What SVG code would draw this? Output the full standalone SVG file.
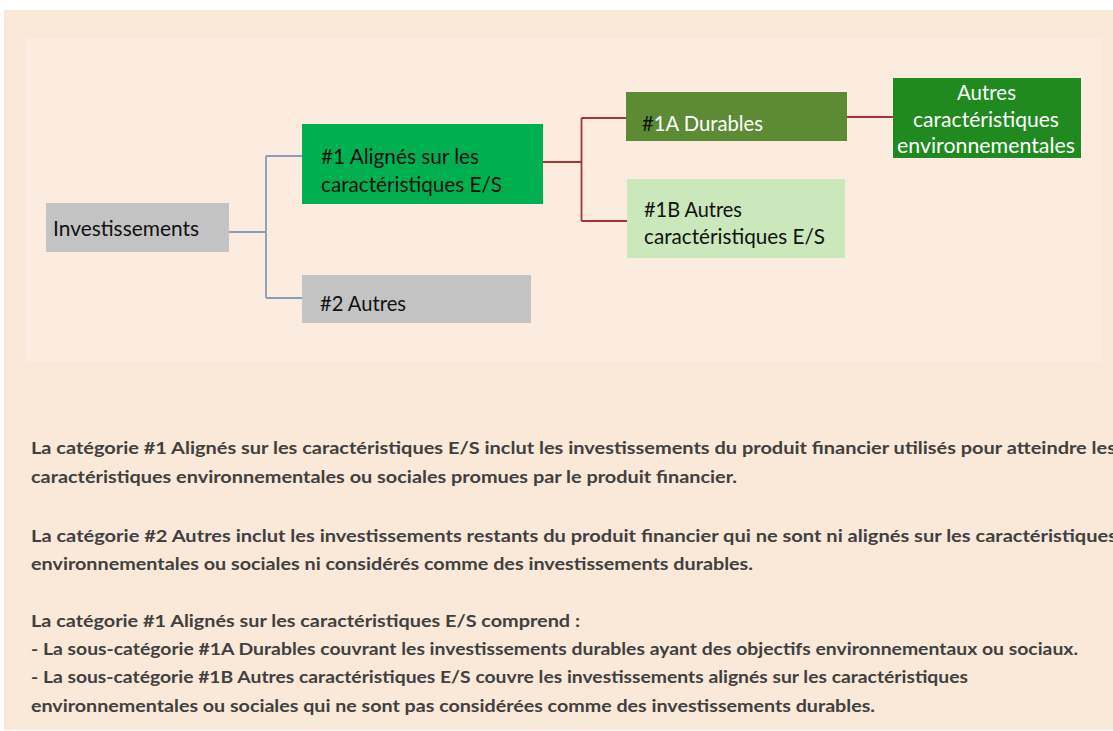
<svg xmlns="http://www.w3.org/2000/svg" width="1113" height="731" viewBox="0 0 1113 731">
<style>
.n{font-family:Lato,"Liberation Sans",sans-serif;font-size:22px;fill:#111111}
.w{fill:#ffffff}
.b{font-family:Lato,"Liberation Sans",sans-serif;font-size:17px;font-weight:bold;fill:#404040}
.blue{fill:none;stroke:#8A9DBA;stroke-width:1.8}
.red{fill:none;stroke:#A3343B;stroke-width:1.8}
</style>
<rect x="0" y="0" width="1113" height="731" fill="#ffffff"/>
<rect x="4" y="10" width="1109" height="720" fill="#FAE8D8"/>
<rect x="25" y="38" width="1077" height="324" fill="#FCECDF"/>
<g id="connectors">
<path class="blue" d="M229,232 H266 M266,156 V298 M266,156 H302 M266,298 H302"/>
<path class="red" d="M543,162 H581.5 M581.5,118 V221 M581.5,118 H626 M581.5,221 H627 M847,117 H893"/>
</g>
<g id="investissements">
<rect x="46" y="203" width="183" height="49" fill="#C3C3C3"/>
<text class="n" x="53" y="236" textLength="146" lengthAdjust="spacingAndGlyphs">Investissements</text>
</g>
<g id="n1">
<rect x="302" y="124" width="241" height="80" fill="#00B050"/>
<text class="n" x="321" y="164" textLength="158" lengthAdjust="spacingAndGlyphs">#1 Alignés sur les</text>
<text class="n" x="321" y="192" textLength="181" lengthAdjust="spacingAndGlyphs">caractéristiques E/S</text>
</g>
<g id="n2">
<rect x="302" y="275" width="229" height="48" fill="#C3C3C3"/>
<text class="n" x="320" y="311" textLength="86" lengthAdjust="spacingAndGlyphs">#2 Autres</text>
</g>
<g id="n1a">
<rect x="626" y="92" width="221" height="49" fill="#5D8A35"/>
<text class="n" x="642" y="131" textLength="121" lengthAdjust="spacingAndGlyphs">#<tspan class="w">1A Durables</tspan></text>
</g>
<g id="n1b">
<rect x="627" y="179" width="218" height="79" fill="#CBE7BC"/>
<text class="n" x="644" y="217" textLength="98" lengthAdjust="spacingAndGlyphs">#1B Autres</text>
<text class="n" x="644" y="244" textLength="181" lengthAdjust="spacingAndGlyphs">caractéristiques E/S</text>
</g>
<g id="nenv">
<rect x="893" y="78" width="188" height="80" fill="#208A20"/>
<text class="n w" x="957" y="100" textLength="59" lengthAdjust="spacingAndGlyphs">Autres</text>
<text class="n w" x="913" y="127" textLength="146" lengthAdjust="spacingAndGlyphs">caractéristiques</text>
<text class="n w" x="897" y="153" textLength="178" lengthAdjust="spacingAndGlyphs">environnementales</text>
</g>
<g id="legend">
<text class="b" x="31" y="454" textLength="1085" lengthAdjust="spacingAndGlyphs">La catégorie #1 Alignés sur les caractéristiques E/S inclut les investissements du produit financier utilisés pour atteindre les</text>
<text class="b" x="31" y="483" textLength="706" lengthAdjust="spacingAndGlyphs">caractéristiques environnementales ou sociales promues par le produit financier.</text>
<text class="b" x="31" y="542" textLength="1086" lengthAdjust="spacingAndGlyphs">La catégorie #2 Autres inclut les investissements restants du produit financier qui ne sont ni alignés sur les caractéristiques</text>
<text class="b" x="31" y="570" textLength="722" lengthAdjust="spacingAndGlyphs">environnementales ou sociales ni considérés comme des investissements durables.</text>
<text class="b" x="31" y="627" textLength="549" lengthAdjust="spacingAndGlyphs">La catégorie #1 Alignés sur les caractéristiques E/S comprend :</text>
<text class="b" x="31" y="655" textLength="1047" lengthAdjust="spacingAndGlyphs">- La sous-catégorie #1A Durables couvrant les investissements durables ayant des objectifs environnementaux ou sociaux.</text>
<text class="b" x="31" y="683" textLength="937" lengthAdjust="spacingAndGlyphs">- La sous-catégorie #1B Autres caractéristiques E/S couvre les investissements alignés sur les caractéristiques</text>
<text class="b" x="31" y="712" textLength="844" lengthAdjust="spacingAndGlyphs">environnementales ou sociales qui ne sont pas considérées comme des investissements durables.</text>
</g>
</svg>
